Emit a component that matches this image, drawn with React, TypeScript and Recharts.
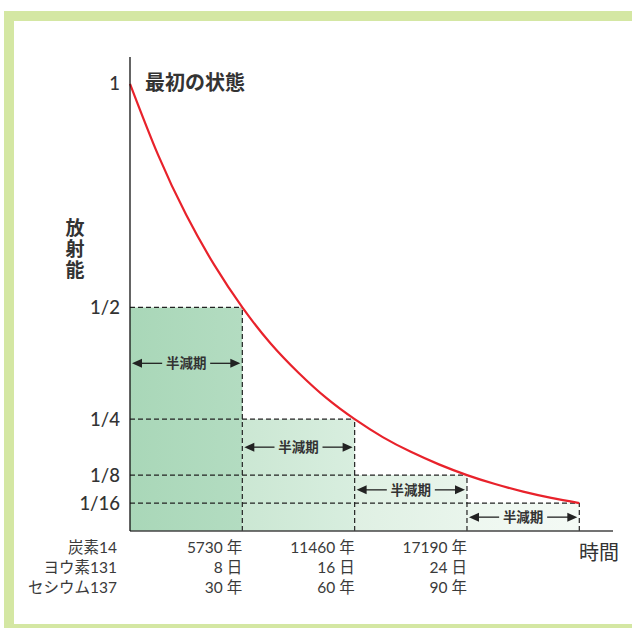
import React from "react";
import {
  ComposedChart,
  Line,
  XAxis,
  YAxis,
  ReferenceArea,
  ReferenceLine,
} from "recharts";

// half-life multiples and the remaining fraction after each one
const halfLives = [1, 2, 3, 4];
const levels = [0.5, 0.25, 0.125, 0.0625];
const yTicks = [1, 0.5, 0.25, 0.125, 0.0625];
const yTickLabels = ["1", "1/2", "1/4", "1/8", "1/16"];
const arrowLevels = [0.375, 0.1875, 0.092, 0.031];

// decay curve
const curveT = [0, 0.25, 0.5, 0.75, 1, 1.25, 1.5, 1.75, 2, 2.25, 2.5, 2.75, 3, 3.25, 3.5, 3.75, 4];
const curveV = [1, 0.841, 0.707, 0.595, 0.5, 0.42, 0.354, 0.297, 0.25, 0.21, 0.177, 0.149, 0.125, 0.105, 0.088, 0.074, 0.0625];

const elements = ["炭素14", "ヨウ素131", "セシウム137"];
const carbon = ["5730 年", "11460 年", "17190 年"];
const iodine = ["8 日", "16 日", "24 日"];
const cesium = ["30 年", "60 年", "90 年"];
const yTitle = ["放", "射", "能"];

const fills = ["url(#g1)", "url(#g2)", "url(#g3)", "url(#g4)"];

const FONT = 'Lato, "Noto Sans CJK JP", sans-serif';
const curve = curveT.map((t, i) => ({ t, v: curveV[i] }));

function YTick(props: any) {
  const { payload } = props;
  const i = yTicks.indexOf(payload.value);
  return (
    <text x={120} y={props.y} dy="0.36em" textAnchor="end" fontSize={18.5} fontWeight={500} fill="#333" style={{ fontFamily: FONT }}>
      {yTickLabels[i]}
    </text>
  );
}

function XTick(props: any) {
  const { x, payload } = props;
  const k = payload.value;
  const rows = k === 0 ? elements : [carbon[k - 1], iodine[k - 1], cesium[k - 1]];
  const tx = k === 0 ? 117 : x;
  return (
    <g>
      {rows.map((r, j) => (
        <text key={j} x={tx} y={547 + j * 20} dy="0.36em" textAnchor="end" fontSize={15.5} fill="#3a3a3a" style={{ fontFamily: FONT }}>
          {r}
        </text>
      ))}
    </g>
  );
}

function HalfLifeArrow(props: any) {
  const { x1, x2, y1 } = props;
  const y = y1;
  const mid = (x1 + x2) / 2;
  const l = x1 + 2;
  const r = x2 - 2;
  const gap = 24;
  return (
    <g>
      <line x1={l + 8} y1={y} x2={mid - gap} y2={y} stroke="#222" strokeWidth={1.3} />
      <line x1={mid + gap} y1={y} x2={r - 8} y2={y} stroke="#222" strokeWidth={1.3} />
      <polygon points={`${l},${y} ${l + 10},${y - 4.5} ${l + 10},${y + 4.5}`} fill="#222" />
      <polygon points={`${r},${y} ${r - 10},${y - 4.5} ${r - 10},${y + 4.5}`} fill="#222" />
      <text x={mid} y={y} dy="0.36em" textAnchor="middle" fontSize={13.5} fontWeight={700} fill="#333" style={{ fontFamily: FONT }}>
        半減期
      </text>
    </g>
  );
}

function TextLabel({ x, y, children, size, bold, anchor }: any) {
  return (
    <text x={x} y={y} dy="0.36em" textAnchor={anchor || "start"} fontSize={size} fontWeight={bold ? 700 : 400} fill="#333" style={{ fontFamily: FONT }}>
      {children}
    </text>
  );
}

export default function App() {
  return (
    <div style={{ position: "absolute", left: 0, top: 0, width: 632, height: 628, overflow: "hidden", background: "#fff" }}>
      <div
        style={{
          position: "absolute",
          left: 4,
          top: 11,
          width: 700,
          height: 623,
          boxSizing: "border-box",
          border: "10px solid #d4e7a3",
        }}
      />
      <div style={{ position: "absolute", left: 0, top: 0 }}>
        <ComposedChart width={632} height={628} data={curve} margin={{ top: 57, right: 19, bottom: 67, left: 100 }}>
          <defs>
            <linearGradient id="g1" x1="0" y1="0" x2="1" y2="0">
              <stop offset="0%" stopColor="#a9d7b8" />
              <stop offset="100%" stopColor="#b3dcc1" />
            </linearGradient>
            <linearGradient id="g2" x1="0" y1="0" x2="1" y2="0">
              <stop offset="0%" stopColor="#cbe7d3" />
              <stop offset="100%" stopColor="#d8eedf" />
            </linearGradient>
            <linearGradient id="g3" x1="0" y1="0" x2="1" y2="0">
              <stop offset="0%" stopColor="#dff0e3" />
              <stop offset="100%" stopColor="#e9f5ec" />
            </linearGradient>
            <linearGradient id="g4" x1="0" y1="0" x2="1" y2="0">
              <stop offset="0%" stopColor="#edf7ef" />
              <stop offset="100%" stopColor="#f4faf5" />
            </linearGradient>
          </defs>
          <XAxis
            dataKey="t"
            type="number"
            domain={[0, 4.3]}
            ticks={[0, 1, 2, 3]}
            interval={0}
            height={30}
            tickSize={0}
            tickMargin={0}
            tickLine={false}
            tick={<XTick />}
            axisLine={{ stroke: "#444", strokeWidth: 1.6 }}
          />
          <YAxis
            type="number"
            domain={[0, 1.06]}
            ticks={yTicks}
            interval={0}
            width={30}
            tickSize={0}
            tickMargin={0}
            tickLine={false}
            tick={<YTick />}
            axisLine={{ stroke: "#111", strokeWidth: 1.3 }}
          />
          {halfLives.map((k, i) => (
            <ReferenceArea key={"a" + k} x1={k - 1} x2={k} y1={0} y2={levels[i]} fill={fills[i]} fillOpacity={1} stroke="none" />
          ))}
          {halfLives.map((k, i) => (
            <ReferenceLine
              key={"h" + k}
              segment={[{ x: 0, y: levels[i] }, { x: k, y: levels[i] }]}
              stroke="#222"
              strokeWidth={1.2}
              strokeDasharray="5 3"
            />
          ))}
          {halfLives.map((k, i) => (
            <ReferenceLine
              key={"v" + k}
              segment={[{ x: k, y: 0 }, { x: k, y: levels[i] }]}
              stroke="#222"
              strokeWidth={1.2}
              strokeDasharray="5 3"
            />
          ))}
          {halfLives.map((k, i) => (
            <ReferenceLine
              key={"r" + k}
              segment={[{ x: k - 1, y: arrowLevels[i] }, { x: k, y: arrowLevels[i] }]}
              shape={(p: any) => <HalfLifeArrow {...p} />}
            />
          ))}
          <Line dataKey="v" type="natural" stroke="#e8222b" strokeWidth={2.2} dot={false} isAnimationActive={false} />
          <ReferenceLine
            segment={[{ x: 0, y: 1 }, { x: 0.01, y: 1 }]}
            stroke="none"
            label={{ content: () => <TextLabel x={145} y={83} size={20} bold>最初の状態</TextLabel> }}
          />
          <ReferenceLine
            segment={[{ x: 4, y: 0 }, { x: 4.01, y: 0 }]}
            stroke="none"
            label={{ content: () => <TextLabel x={579} y={553} size={20}>時間</TextLabel> }}
          />
          {yTitle.map((c, i) => (
            <ReferenceLine
              key={"t" + i}
              segment={[{ x: 0, y: 0.6 }, { x: 0.01, y: 0.6 }]}
              stroke="none"
              label={{ content: () => <TextLabel x={75} y={228 + i * 21} size={19} bold anchor="middle">{c}</TextLabel> }}
            />
          ))}
        </ComposedChart>
      </div>
    </div>
  );
}
